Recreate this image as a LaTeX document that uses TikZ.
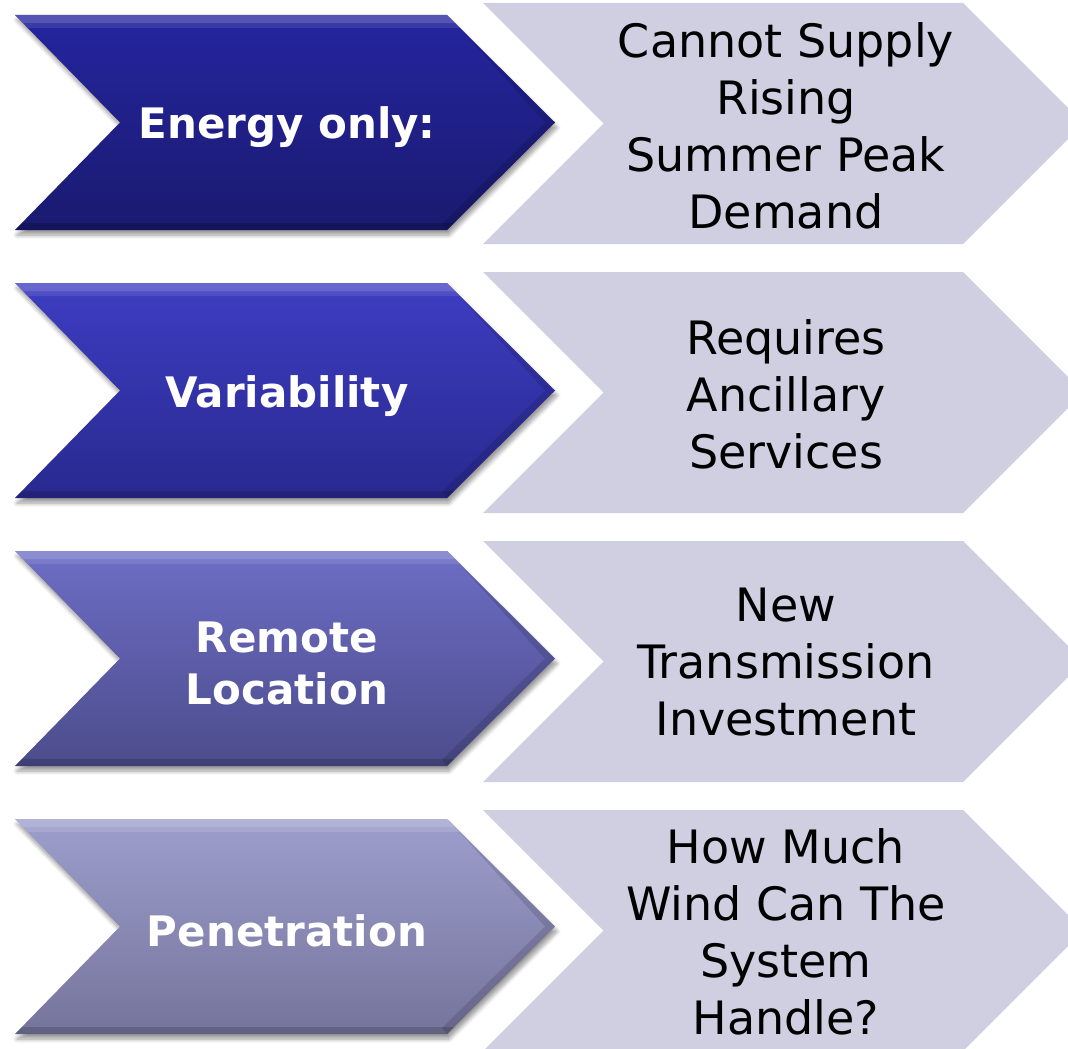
\documentclass[tikz,border=0pt]{standalone}
\usepackage{fontspec}
\setmainfont{DejaVu Sans}
\usetikzlibrary{shadows.blur}
\definecolor{rgray}{HTML}{CFCFE1}
\definecolor{lAt}{HTML}{25259F}
\definecolor{lAb}{HTML}{1A1A70}
\definecolor{lBt}{HTML}{3D3DC2}
\definecolor{lBb}{HTML}{292990}
\definecolor{lCt}{HTML}{6D6DC5}
\definecolor{lCb}{HTML}{4C4C8C}
\definecolor{lDt}{HTML}{9E9ECD}
\definecolor{lDb}{HTML}{74749C}
\tikzset{
  lefttext/.style={text=white,font=\bfseries\fontsize{42}{52}\selectfont,align=center,inner sep=0pt,anchor=base},
  righttext/.style={text=black,font=\fontsize{46}{57}\selectfont,align=center,inner sep=0pt,anchor=base},
  rightchev/.style={fill=rgray},
  leftshadow/.style={blur shadow={shadow xshift=2pt,shadow yshift=-5pt,shadow blur steps=6,shadow opacity=40,shadow blur radius=4pt}}
}
\begin{document}
\begin{tikzpicture}[x=1pt,y=-1pt]
\useasboundingbox (0,0) rectangle (1068,1049);
\clip (0,0) rectangle (1068,1049);
\foreach \t in {3,272,541,810}{
  \fill[rightchev] (483,\t) -- (963,\t) -- (1083.5,\t+120.5) -- (963,\t+241) -- (483,\t+241) -- (603.5,\t+120.5) -- cycle;
}
\foreach \t/\ct/\cb in {15/lAt/lAb,283/lBt/lBb,551/lCt/lCb,819/lDt/lDb}{
  \shade[top color=\ct,bottom color=\cb,leftshadow] (15,\t) -- (447,\t) -- (555,\t+107.5) -- (447,\t+215) -- (15,\t+215) -- (120,\t+107.5) -- cycle;
  \fill[white,opacity=0.22] (15,\t) -- (447,\t) -- (455,\t+8) -- (23,\t+8) -- cycle;
  \fill[white,opacity=0.10] (23,\t+8) -- (455,\t+8) -- (460,\t+13) -- (28,\t+13) -- cycle;
  \fill[black,opacity=0.16] (15,\t+215) -- (447,\t+215) -- (454,\t+208) -- (22,\t+208) -- cycle;
  \fill[black,opacity=0.12] (447,\t) -- (555,\t+107.5) -- (447,\t+215) -- (442,\t+209) -- (545,\t+107.5) -- (455,\t+8) -- cycle;
}
\node[lefttext] (l1) at (287,138) {Energy only:};
\node[lefttext] (l2) at (287,407) {Variability};
\node[lefttext] (l3) at (287,704) {Remote\\Location};
\node[lefttext] (l4) at (287,946) {Penetration};
\node[righttext] (r1) at (786,228) {Cannot Supply\\Rising\\Summer Peak\\Demand};
\node[righttext] (r2) at (786,468) {Requires\\Ancillary\\Services};
\node[righttext] (r3) at (786,735) {New\\Transmission\\Investment};
\node[righttext] (r4) at (786,1034) {How Much\\Wind Can The\\System\\Handle?};
\end{tikzpicture}
\end{document}
